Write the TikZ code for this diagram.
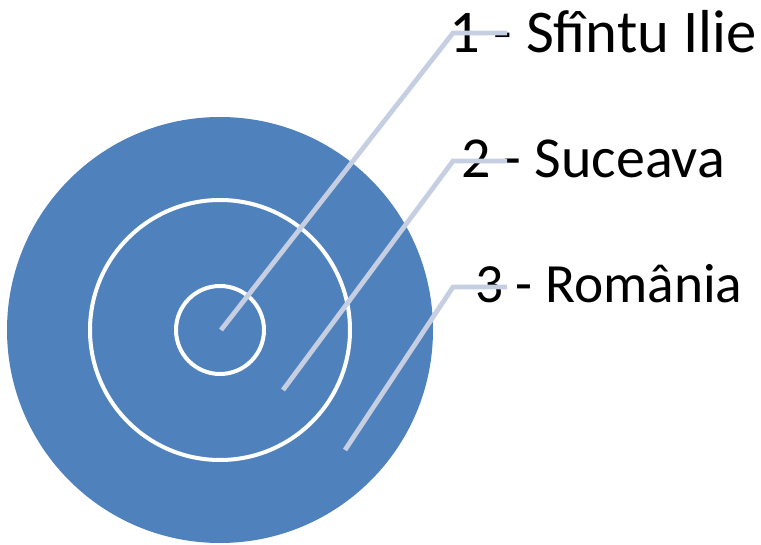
\documentclass[tikz,border=0pt]{standalone}
\usepackage{fontspec}
\setmainfont{Carlito}
\definecolor{ringblue}{RGB}{79,129,189}
\definecolor{leaderblue}{RGB}{197,207,225}
\tikzset{
  ring/.style={draw=white,line width=3pt},
  leader/.style={draw=leaderblue,line width=3.6pt},
  label/.style={anchor=base west,inner sep=0pt}
}
\begin{document}
\begin{tikzpicture}[x=0.75pt,y=-0.75pt]
  \useasboundingbox (0,0) rectangle (761,545);
  \fill[ringblue] (220,330) circle [radius=159.75pt];
  \draw[ring] (220,330) circle [radius=97.5pt];
  \draw[ring] (220,330) circle [radius=33pt];
  \node[label,font=\fontsize{45.5}{54}\selectfont] (sfintu) at (449,53) {1 - Sfîntu Ilie};
  \node[label,font=\fontsize{43.5}{52}\selectfont] (suceava) at (461,178) {2 - Suceava};
  \node[label,font=\fontsize{41.5}{50}\selectfont] (romania) at (475,303) {3 - România};
  \coordinate (p1) at (221,330);
  \coordinate (p2) at (283,390);
  \coordinate (p3) at (345,450);
  \draw[leader] (p1) -- (453,33) -- (507,33);
  \draw[leader] (p2) -- (453,161) -- (507,161);
  \draw[leader] (p3) -- (453,287) -- (507,287);
\end{tikzpicture}
\end{document}
